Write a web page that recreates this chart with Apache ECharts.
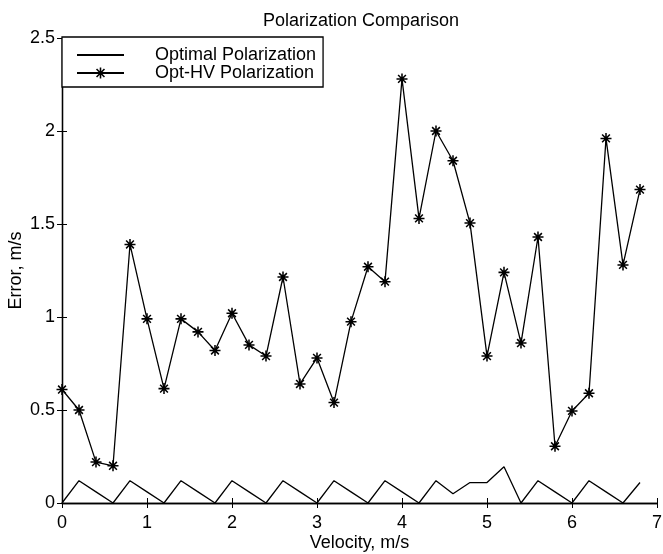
<!DOCTYPE html>
<html>
<head>
<meta charset="utf-8">
<script src="https://cdn.jsdelivr.net/npm/echarts@6/dist/echarts.min.js"></script>
<style>
html,body{margin:0;padding:0;background:#fff;}
#chart{width:663px;height:554px;}
</style>
</head>
<body>
<div id="chart"></div>
<script>
var velocity = [0,0.2,0.4,0.6,0.8,1.0,1.2,1.4,1.6,1.8,2.0,2.2,2.4,2.6,2.8,3.0,3.2,3.4,3.6,3.8,4.0,4.2,4.4,4.6,4.8,5.0,5.2,5.4,5.6,5.8,6.0,6.2,6.4,6.6,6.8];
var optimalError = [0,0.12,0.06,0,0.12,0.06,0,0.12,0.06,0,0.12,0.06,0,0.12,0.06,0,0.12,0.06,0,0.12,0.06,0,0.12,0.05,0.11,0.11,0.195,0,0.12,0.06,0,0.12,0.06,0,0.11];
var optHVError = [0.61,0.50,0.22,0.20,1.39,0.99,0.615,0.99,0.92,0.82,1.02,0.85,0.79,1.215,0.64,0.78,0.54,0.975,1.27,1.19,2.28,1.53,2.00,1.84,1.505,0.79,1.24,0.86,1.43,0.305,0.495,0.59,1.96,1.28,1.685];
var seriesNames = ['Optimal Polarization','Opt-HV Polarization'];
var titleText = 'Polarization Comparison';
var xName = 'Velocity, m/s';
var yName = 'Error, m/s';

function pairs(xs, ys){ return xs.map(function(x,i){ return [x, ys[i]]; }); }

var star = 'path://M0,43L100,43L100,57L0,57Z M43,0L57,0L57,100L43,100Z M19.6,9.7L90.3,80.4L80.4,90.3L9.7,19.6Z M90.3,19.6L19.6,90.3L9.7,80.4L80.4,9.7Z';
var font = 'Liberation Sans, Arial, Helvetica, sans-serif';

var chart = echarts.init(document.getElementById('chart'), null, {renderer:'canvas'});
chart.setOption({
  animation:false,
  backgroundColor:'#fff',
  title:{text:titleText, top:12, textStyle:{fontFamily:font, fontSize:18, fontWeight:'normal', color:'#000'}, padding:0, left:263},
  grid:{left:62, right:6, top:38, bottom:51, containLabel:false, outerBoundsMode:'none'},
  legend:{
    left:62, top:37, orient:'vertical',
    data:[
      {name:seriesNames[0], itemStyle:{color:'rgba(0,0,0,0)', opacity:0, borderWidth:0}},
      {name:seriesNames[1]}
    ],
    backgroundColor:'#fff',
    borderColor:'#000', borderWidth:1.3,
    padding:[9,7,5,14],
    itemWidth:47, itemHeight:14, itemGap:0,
    textStyle:{fontFamily:font, fontSize:18, color:'#000', padding:[0,0,0,26], lineHeight:18}
  },
  xAxis:[{
    type:'value', min:0, max:7, interval:1, position:'bottom',
    name:xName, nameLocation:'middle', nameGap:31, nameMoveOverlap:false,
    nameTextStyle:{fontFamily:font, fontSize:18, color:'#000'},
    axisLine:{lineStyle:{color:'#000', width:1.3}},
    axisTick:{inside:true, length:5, lineStyle:{color:'#000', width:1}},
    axisLabel:{fontFamily:font, fontSize:18, color:'#000', margin:11},
    splitLine:{show:false}
  },{
    type:'value', min:0, max:7, interval:1, position:'top',
    axisLine:{lineStyle:{color:'#000', width:1.3}},
    axisTick:{inside:true, length:5, lineStyle:{color:'#000', width:1}},
    axisLabel:{show:false}, splitLine:{show:false}
  }],
  yAxis:[{
    type:'value', min:0, max:2.5, interval:0.5, position:'left',
    name:yName, nameLocation:'middle', nameGap:37, nameMoveOverlap:false,
    nameTextStyle:{fontFamily:font, fontSize:18, color:'#000'},
    axisLine:{show:true, lineStyle:{color:'#000', width:1.3}},
    axisTick:{show:true, inside:true, length:5, lineStyle:{color:'#000', width:1}},
    axisLabel:{fontFamily:font, fontSize:18, color:'#000', margin:7},
    splitLine:{show:false}
  },{
    type:'value', min:0, max:2.5, interval:0.5, position:'right',
    axisLine:{show:true, lineStyle:{color:'#000', width:1.3}},
    axisTick:{show:true, inside:true, length:5, lineStyle:{color:'#000', width:1}},
    axisLabel:{show:false}, splitLine:{show:false}
  }],
  series:[{
    name:seriesNames[0], type:'line', data:pairs(velocity, optimalError),
    symbol:'none', lineStyle:{color:'#000', width:1.3}, itemStyle:{color:'#000'}
  },{
    name:seriesNames[1], type:'line', data:pairs(velocity, optHVError),
    symbol:star, symbolSize:11, showSymbol:true,
    lineStyle:{color:'#000', width:1.3}, itemStyle:{color:'#000'}
  }]
});
</script>
</body>
</html>
